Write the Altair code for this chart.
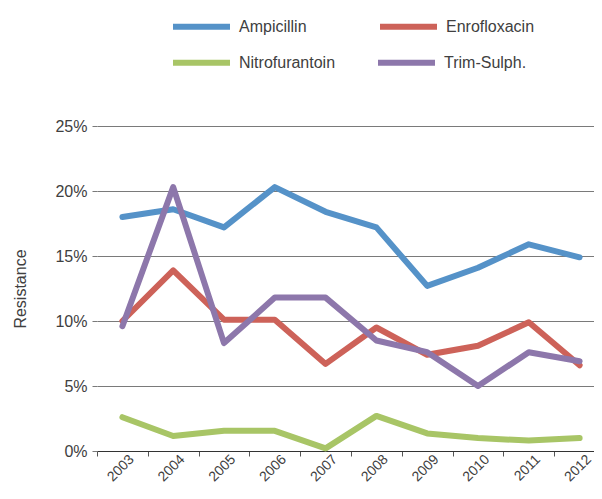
import altair as alt
import pandas as pd

years = ["2003", "2004", "2005", "2006", "2007", "2008", "2009", "2010", "2011", "2012"]
ampicillin = [18.0, 18.6, 17.2, 20.3, 18.4, 17.2, 12.7, 14.1, 15.9, 14.9]
enrofloxacin = [10.0, 13.9, 10.1, 10.1, 6.7, 9.5, 7.4, 8.1, 9.9, 6.6]
nitrofurantoin = [2.6, 1.15, 1.55, 1.55, 0.2, 2.7, 1.35, 1.0, 0.8, 1.0]
trim_sulph = [9.6, 20.3, 8.3, 11.8, 11.8, 8.5, 7.6, 5.0, 7.6, 6.9]

row1_names = ["Ampicillin", "Enrofloxacin"]
row1_values = [ampicillin, enrofloxacin]
row1_colors = ["#5592C8", "#CD6259"]
row2_names = ["Nitrofurantoin", "Trim-Sulph."]
row2_values = [nitrofurantoin, trim_sulph]
row2_colors = ["#A8C566", "#8D77AB"]


def frame(names, values):
    rows = []
    for name, vals in zip(names, values):
        for y, v in zip(years, vals):
            rows.append({"Year": y, "Series": name, "Value": v / 100.0})
    return pd.DataFrame(rows)


FONT = "Liberation Sans"
TXT = "#404040"

x_enc = alt.X("Year:O", sort=years, bandPosition=0.5,
              scale=alt.Scale(type="band", paddingInner=0, paddingOuter=0, range=[0, 508]),
              axis=alt.Axis(title=None, tickBand="extent", labelAngle=315, labelAlign="right",
                            labelBaseline="middle", labelOffset=9, labelPadding=1,
                            tickSize=5, tickColor="#555555", domainColor="#333333",
                            labelFontSize=14, labelColor=TXT, labelFont=FONT, grid=False)),
y_enc = None
y_enc = alt.Y("Value:Q", scale=alt.Scale(domain=[0, 0.25], nice=False),
              axis=alt.Axis(title="Resistance", format=".0%", values=[0, 0.05, 0.10, 0.15, 0.20, 0.25],
                            domain=False, grid=True, gridColor="#7a7a7a", gridWidth=1,
                            tickColor="#7a7a7a", tickSize=5, labelPadding=5,
                            labelFontSize=16, labelColor=TXT, labelFont=FONT,
                            titleFont=FONT, titleFontSize=16, titleFontWeight="normal",
                            titleColor=TXT, titlePadding=26))
x_enc = x_enc[0]


def legend(y, col_pad):
    return alt.Legend(title=None, orient="none", legendX=73, legendY=y,
                      direction="horizontal", symbolType="stroke", symbolSize=3249,
                      symbolStrokeWidth=6, labelFontSize=16, labelColor=TXT, labelFont=FONT,
                      labelOffset=6, columnPadding=col_pad)


line = dict(strokeWidth=6, strokeJoin="round", strokeCap="round")

layer_a = alt.Chart(frame(row1_names, row1_values)).mark_line(**line).encode(
    x=x_enc, y=y_enc,
    color=alt.Color("Series:N", sort=row1_names,
                    scale=alt.Scale(domain=row1_names, range=row1_colors),
                    legend=legend(-131, 61)),
)
layer_b = alt.Chart(frame(row2_names, row2_values)).mark_line(**line).encode(
    x=x_enc, y=y_enc,
    stroke=alt.Stroke("Series:N", sort=row2_names,
                      scale=alt.Scale(domain=row2_names, range=row2_colors),
                      legend=legend(-95, 30)),
)

chart = alt.layer(layer_a, layer_b).properties(
    width=497, height=325,
    autosize=alt.AutoSizeParams(type="none"),
    padding={"left": 89, "top": 118, "right": 0, "bottom": 33},
).configure_view(stroke=None).configure_legend(symbolStrokeColor=None)

chart.save("out.html", embed_options={"renderer": "svg", "actions": False})
